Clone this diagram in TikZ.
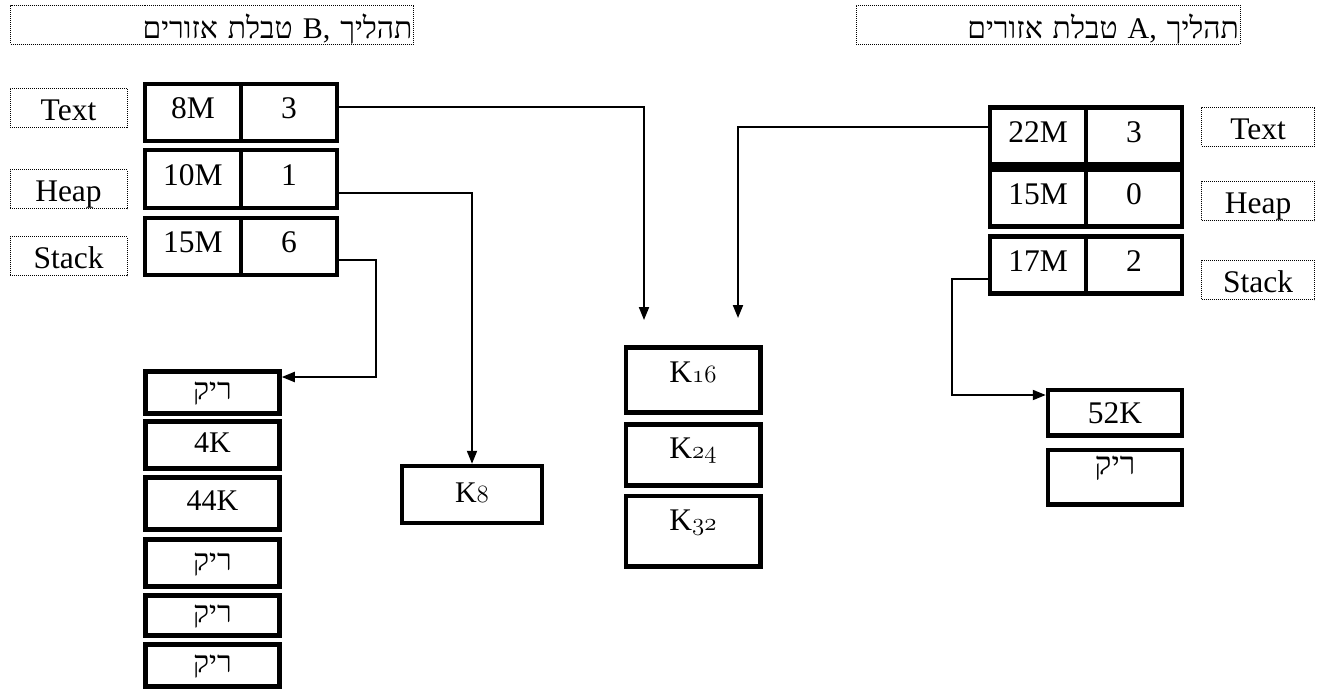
\documentclass[tikz,border=0pt]{standalone}
\usepackage{fontspec}
\setmainfont{Liberation Serif}
\newfontfamily\heb[Script=Hebrew]{Liberation Serif}
\TeXXeTstate=1
\usetikzlibrary{arrows.meta}
% old-style figures for the K-sized blocks
\newcommand\osf[1]{{\usefont{OML}{lmm}{b}{it}#1}}
\newcommand\rik{{\heb\beginR ריק\endR}}

\tikzset{
  big/.style={font=\fontsize{31.5}{38}\selectfont},
  small/.style={font=\fontsize{30}{36}\selectfont},
  thick box/.style={draw, line width=4.5pt, inner sep=0pt},
  cell/.style={thick box, big, minimum width=96pt, minimum height=57pt,
    text height=20pt, text depth=8pt},
  tag/.style={draw, line width=1pt, dash pattern=on 1pt off 1pt, inner sep=0pt,
    big, minimum width=117pt, minimum height=39pt, text height=27pt, text depth=2pt},
  title/.style={draw, line width=1pt, dash pattern=on 1pt off 1pt, inner xsep=1pt,
    inner ysep=0pt, minimum height=39pt, align=right,
    font=\fontsize{30}{36}\selectfont, text height=28pt, text depth=1pt},
  kbox/.style={thick box, big, minimum width=134.5pt},
  sbox/.style={thick box, small, minimum width=134pt, text height=20pt, text depth=6pt},
  conn/.style={line width=2pt},
  arr/.style={conn, -{Triangle[length=13pt,width=10pt]}}
}

\begin{document}
\begin{tikzpicture}[x=1pt, y=-1pt]
\useasboundingbox (0,0) rectangle (1324,691);

% ---- headers ----
\node[title, text width=401pt] (tb) at (212,24.5) {\heb\beginR תהליך B, טבלת אזורים\endR};
\node[title, text width=382pt] (ta) at (1048,24.5) {\heb\beginR תהליך A, טבלת אזורים\endR};

% ---- process B: region table ----
\node[tag] (lt) at (68.5,107.5) {Text};
\node[tag] (lh) at (68.5,189) {Heap};
\node[tag] (ls) at (68.5,256) {Stack};

\node[cell] (b1a) at (193,112.5) {8M};
\node[cell] (b1b) at (289,112.5) {3};
\node[cell, minimum height=58pt] (b2a) at (193,179) {10M};
\node[cell, minimum height=58pt] (b2b) at (289,179) {1};
\node[cell] (b3a) at (193,246.5) {15M};
\node[cell] (b3b) at (289,246.5) {6};

% ---- process A: region table ----
\node[cell] (a1a) at (1038,136) {22M};
\node[cell] (a1b) at (1134,136) {3};
\node[cell] (a2a) at (1038,198) {15M};
\node[cell] (a2b) at (1134,198) {0};
\node[cell] (a3a) at (1038,265) {17M};
\node[cell] (a3b) at (1134,265) {2};

\node[tag, minimum width=113pt] (rt) at (1258,126.5) {Text};
\node[tag, minimum width=113pt] (rh) at (1258,201) {Heap};
\node[tag, minimum width=113pt] (rs) at (1258,280) {Stack};

% ---- shared segment sizes ----
\node[kbox, minimum height=65pt, text height=20pt, text depth=16pt] (k16) at (693,380) {K\osf{16}};
\node[kbox, minimum height=61pt, text height=20pt, text depth=14pt] (k24) at (693,455) {K\osf{24}};
\node[kbox, minimum height=70.5pt, text height=20pt, text depth=22pt] (k32) at (693,531) {K\osf{32}};

\node[thick box, small, minimum width=140pt, minimum height=57pt,
      text height=20pt, text depth=5pt] (k8) at (472,494.5) {K\osf{8}};

% ---- stack of process B ----
\node[sbox, minimum height=42pt] (s1) at (212.5,392.5) {\rik};
\node[sbox, minimum height=47pt] (s2) at (212.5,445) {4K};
\node[sbox, minimum height=52pt] (s3) at (212.5,503.5) {44K};
\node[sbox, minimum height=47pt] (s4) at (212.5,563) {\rik};
\node[sbox, minimum height=40pt] (s5) at (212.5,615.5) {\rik};
\node[sbox, minimum height=42pt] (s6) at (212.5,665.5) {\rik};

% ---- stack of process A ----
\node[thick box, big, minimum width=134pt, minimum height=45.5pt,
      text height=24pt, text depth=2pt] (r52) at (1115,412.75) {52K};
\node[thick box, big, minimum width=134pt, minimum height=54.5pt,
      text height=14pt, text depth=20pt] (rr) at (1115,477) {\rik};

% ---- connectors ----
\coordinate (c1) at (644,107);
\coordinate (e1) at (644,320);
\draw[arr] (b1b.east |- c1) -- (c1) -- (e1);

\coordinate (c2) at (472,193);
\draw[arr] (b2b.east |- c2) -- (c2) -- (k8.north);

\coordinate (c3) at (376,260);
\coordinate (c3b) at (376,377);
\draw[arr] (b3b.east |- c3) -- (c3) -- (c3b) -- (s1.east |- c3b);

\coordinate (c4) at (738,127);
\coordinate (e4) at (738,318);
\draw[arr] (a1a.west |- c4) -- (c4) -- (e4);

\coordinate (c5) at (952,279);
\coordinate (c5b) at (952,395);
\draw[arr] (a3a.west |- c5) -- (c5) -- (c5b) -- (r52.west |- c5b);
\end{tikzpicture}
\end{document}
